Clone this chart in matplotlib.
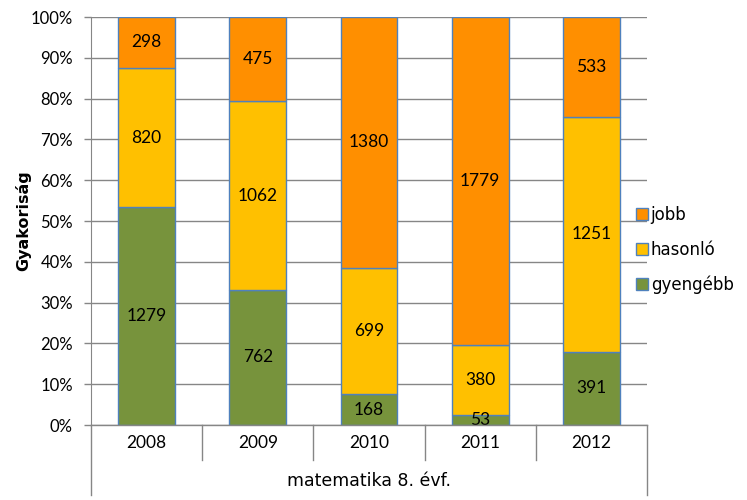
import matplotlib.pyplot as plt
import numpy as np
from matplotlib.patches import Patch

plt.rcParams['font.family'] = ['Lato', 'DejaVu Sans']

years = ['2008', '2009', '2010', '2011', '2012']
gyengebb = [1279, 762, 168, 53, 391]
hasonlo = [820, 1062, 699, 380, 1251]
jobb = [298, 475, 1380, 1779, 533]
series_names = ['gyengébb', 'hasonló', 'jobb']
colors = ['#77933C', '#FFC000', '#FF8F00']
edge = '#4F81BD'
grid_col = '#868686'
word_font = ['DejaVu Sans']

counts = np.array([gyengebb, hasonlo, jobb], dtype=float)
pct = counts / counts.sum(axis=0) * 100

fig = plt.figure(figsize=(7.47, 5), dpi=100)
ax = fig.add_axes([91 / 747, 75 / 500, 556 / 747, 408 / 500])

x = np.arange(len(years))
bottom = np.zeros(len(years))
for i in range(3):
    ax.bar(x, pct[i], 0.51, bottom=bottom, color=colors[i], edgecolor=edge,
           linewidth=1, zorder=3)
    for j in range(len(years)):
        ax.text(x[j], bottom[j] + pct[i][j] / 2, str(int(counts[i][j])),
                ha='center', va='center', fontsize=12.5, zorder=4)
    bottom += pct[i]

ax.set_xlim(-0.5, len(years) - 0.5)
ax.set_ylim(0, 100)
ax.set_yticks(np.arange(0, 101, 10))
ax.set_yticklabels([f'{v}%' for v in range(0, 101, 10)], fontsize=12)
ax.yaxis.grid(True, color=grid_col, linewidth=1, zorder=0)
ax.tick_params(axis='y', length=5, color=grid_col, width=1, pad=8)
ax.set_xticks([])
for s in ['top', 'right', 'bottom']:
    ax.spines[s].set_visible(False)
ax.spines['left'].set_color(grid_col)
ax.axhline(0, color=grid_col, linewidth=1, zorder=5, clip_on=False)

# two-level category table under the axis
tr = ax.get_xaxis_transform()
for k in range(len(years) + 1):
    b = k - 0.5
    low = -70 / 408 if k in (0, len(years)) else -35 / 408
    ax.plot([b, b], [0, low], transform=tr, color=grid_col, linewidth=1, clip_on=False)
for j, yr in enumerate(years):
    ax.text(j, -18 / 408, yr, transform=tr, ha='center', va='center', fontsize=12.5)
ax.text((len(years) - 1) / 2, -56 / 408, 'matematika 8. évf.', transform=tr,
        ha='center', va='center', fontsize=12.5, family=word_font)

fig.text(23 / 747, 1 - 221 / 500, 'Gyakoriság', rotation=90, ha='center', va='center',
         fontsize=11.5, fontweight='bold', family=word_font)

handles = [Patch(facecolor=colors[i], edgecolor=edge, label=series_names[i]) for i in [2, 1, 0]]
fig.legend(handles=handles, loc='center left', bbox_to_anchor=(629 / 747, 1 - 250 / 500),
           frameon=False, prop={'family': word_font, 'size': 12}, handlelength=0.75,
           handleheight=0.75, handletextpad=0.15, labelspacing=1.0, borderaxespad=0)

fig.savefig('out.png', dpi=100)
